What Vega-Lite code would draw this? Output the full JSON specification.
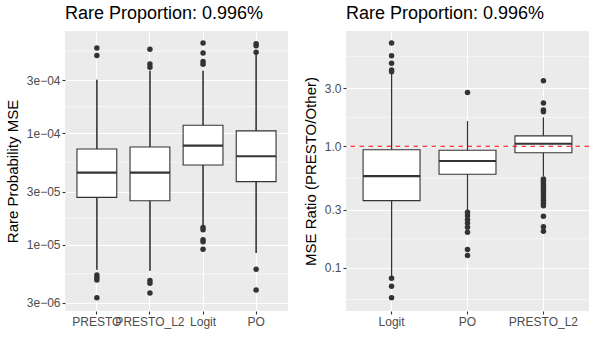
{
  "$schema": "https://vega.github.io/schema/vega-lite/v6.json",
  "padding": {"left": 5, "top": 5, "right": 5, "bottom": 5},
  "spacing": 14,
  "background": "#FFFFFF",
  "config": {
    "view": {"fill": "#EBEBEB", "stroke": null},
    "font": "Liberation Sans",
    "axis": {
      "labelFont": "Liberation Sans", "labelFontSize": 12, "labelColor": "#4D4D4D",
      "ticks": true, "tickColor": "#333333", "tickSize": 3, "tickWidth": 1.1, "domain": false,
      "gridColor": "#FFFFFF", "gridWidth": 1.1, "gridOpacity": 1,
      "titleFont": "Liberation Sans", "titleFontSize": 15, "titleFontWeight": "normal", "titleColor": "#000000",
      "labelPadding": 2, "titlePadding": 6
    },
    "title": {"font": "Liberation Sans", "fontSize": 18, "fontWeight": "normal", "anchor": "start", "frame": "group", "color": "#000000", "offset": 8}
  },
  "datasets": {
    "left_box": [
      {"method": "PRESTO", "lower": 5.97e-6, "q1": 2.66e-5, "median": 4.43e-5, "q3": 7.23e-5, "upper": 3.03e-4},
      {"method": "PRESTO_L2", "lower": 5.85e-6, "q1": 2.48e-5, "median": 4.43e-5, "q3": 7.54e-5, "upper": 3.65e-4},
      {"method": "Logit", "lower": 1.48e-5, "q1": 5.19e-5, "median": 7.74e-5, "q3": 1.18e-4, "upper": 3.65e-4},
      {"method": "PO", "lower": 8.42e-6, "q1": 3.68e-5, "median": 6.22e-5, "q3": 1.05e-4, "upper": 5.15e-4}
    ],
    "left_out": [
      {"method": "PRESTO", "value": 5.84e-4}, {"method": "PRESTO", "value": 4.98e-4},
      {"method": "PRESTO", "value": 5.34e-6}, {"method": "PRESTO", "value": 5.06e-6},
      {"method": "PRESTO", "value": 4.82e-6}, {"method": "PRESTO", "value": 3.34e-6},
      {"method": "PRESTO_L2", "value": 5.68e-4}, {"method": "PRESTO_L2", "value": 4.19e-4},
      {"method": "PRESTO_L2", "value": 3.91e-4}, {"method": "PRESTO_L2", "value": 4.76e-6},
      {"method": "PRESTO_L2", "value": 4.51e-6}, {"method": "PRESTO_L2", "value": 3.69e-6},
      {"method": "Logit", "value": 6.47e-4}, {"method": "Logit", "value": 5.26e-4},
      {"method": "Logit", "value": 4.40e-4}, {"method": "Logit", "value": 4.16e-4},
      {"method": "Logit", "value": 1.43e-5}, {"method": "Logit", "value": 1.36e-5},
      {"method": "Logit", "value": 1.11e-5}, {"method": "Logit", "value": 1.06e-5},
      {"method": "Logit", "value": 9.1e-6},
      {"method": "PO", "value": 6.37e-4}, {"method": "PO", "value": 6.11e-4},
      {"method": "PO", "value": 5.33e-4}, {"method": "PO", "value": 6.01e-6},
      {"method": "PO", "value": 3.92e-6}
    ],
    "left_minor": [{"v": 5.48e-6}, {"v": 1.732e-5}, {"v": 5.48e-5}, {"v": 1.732e-4}, {"v": 5.48e-4}],
    "right_box": [
      {"method": "Logit", "lower": 0.085, "q1": 0.357, "median": 0.569, "q3": 0.938, "upper": 4.01},
      {"method": "PO", "lower": 0.295, "q1": 0.588, "median": 0.757, "q3": 0.927, "upper": 1.61},
      {"method": "PRESTO_L2", "lower": 0.572, "q1": 0.885, "median": 1.05, "q3": 1.22, "upper": 1.73}
    ],
    "right_out": [
      {"method": "Logit", "value": 7.10}, {"method": "Logit", "value": 5.57}, {"method": "Logit", "value": 4.83},
      {"method": "Logit", "value": 4.25}, {"method": "Logit", "value": 4.12}, {"method": "Logit", "value": 0.0818},
      {"method": "Logit", "value": 0.0703}, {"method": "Logit", "value": 0.0567},
      {"method": "PO", "value": 2.78}, {"method": "PO", "value": 0.286}, {"method": "PO", "value": 0.268},
      {"method": "PO", "value": 0.249}, {"method": "PO", "value": 0.233}, {"method": "PO", "value": 0.215},
      {"method": "PO", "value": 0.196}, {"method": "PO", "value": 0.141}, {"method": "PO", "value": 0.126},
      {"method": "PRESTO_L2", "value": 3.47}, {"method": "PRESTO_L2", "value": 2.27}, {"method": "PRESTO_L2", "value": 1.99},
      {"method": "PRESTO_L2", "value": 1.93}, {"method": "PRESTO_L2", "value": 0.538}, {"method": "PRESTO_L2", "value": 0.52},
      {"method": "PRESTO_L2", "value": 0.50}, {"method": "PRESTO_L2", "value": 0.48}, {"method": "PRESTO_L2", "value": 0.46},
      {"method": "PRESTO_L2", "value": 0.44}, {"method": "PRESTO_L2", "value": 0.42}, {"method": "PRESTO_L2", "value": 0.40},
      {"method": "PRESTO_L2", "value": 0.38}, {"method": "PRESTO_L2", "value": 0.36}, {"method": "PRESTO_L2", "value": 0.34},
      {"method": "PRESTO_L2", "value": 0.324}, {"method": "PRESTO_L2", "value": 0.265}, {"method": "PRESTO_L2", "value": 0.218},
      {"method": "PRESTO_L2", "value": 0.20}
    ],
    "right_minor": [{"v": 0.0548}, {"v": 0.173}, {"v": 0.548}, {"v": 1.732}, {"v": 5.48}],
    "ref": [{"r": 1}]
  },
  "hconcat": [
    {
      "width": 223, "height": 280,
      "title": "Rare Proportion: 0.996%",
      "layer": [
        {
          "data": {"name": "left_box"},
          "mark": {"type": "rule", "color": "#333333", "strokeWidth": 1.1},
          "encoding": {
            "x": {"field": "method", "type": "nominal",
              "scale": {"domain": ["PRESTO", "PRESTO_L2", "Logit", "PO"], "paddingInner": 0, "paddingOuter": 0.1},
              "axis": {"title": null, "labelAngle": 0, "labelOverlap": false, "grid": true, "ticks": true, "bandPosition": 0.5}},
            "y": {"field": "lower", "type": "quantitative", "title": "Rare Probability MSE",
              "scale": {"type": "log", "domain": [2.54e-6, 8.28e-4], "nice": false, "zero": false},
              "axis": {"values": [3e-6, 1e-5, 3e-5, 1e-4, 3e-4],
                "labelExpr": "replace(format(datum.value, '.0e'), 'e-', 'e\u22120')"}},
            "y2": {"field": "upper"}
          }
        },
        {
          "data": {"name": "left_minor"},
          "mark": {"type": "rule", "color": "#FFFFFF", "strokeWidth": 0.55},
          "encoding": {"y": {"field": "v", "type": "quantitative", "title": "Rare Probability MSE"}}
        },
        {
          "data": {"name": "left_box"},
          "mark": {"type": "rule", "color": "#333333", "strokeWidth": 1.1},
          "encoding": {
            "x": {"field": "method", "type": "nominal"},
            "y": {"field": "lower", "type": "quantitative", "title": "Rare Probability MSE"},
            "y2": {"field": "upper"}
          }
        },
        {
          "data": {"name": "left_box"},
          "mark": {"type": "bar", "fill": "#FFFFFF", "stroke": "#333333", "strokeWidth": 1.1, "width": {"band": 0.75}},
          "encoding": {
            "x": {"field": "method", "type": "nominal"},
            "y": {"field": "q1", "type": "quantitative", "title": "Rare Probability MSE"},
            "y2": {"field": "q3"}
          }
        },
        {
          "data": {"name": "left_box"},
          "mark": {"type": "tick", "color": "#333333", "thickness": 2.2, "size": 40, "opacity": 1},
          "encoding": {
            "x": {"field": "method", "type": "nominal"},
            "y": {"field": "median", "type": "quantitative", "title": "Rare Probability MSE"}
          }
        },
        {
          "data": {"name": "left_out"},
          "mark": {"type": "circle", "color": "#333333", "opacity": 1, "size": 30},
          "encoding": {
            "x": {"field": "method", "type": "nominal"},
            "y": {"field": "value", "type": "quantitative", "title": "Rare Probability MSE"}
          }
        }
      ]
    },
    {
      "width": 243, "height": 280,
      "title": "Rare Proportion: 0.996%",
      "layer": [
        {
          "data": {"name": "right_box"},
          "mark": {"type": "rule", "color": "#333333", "strokeWidth": 1.1},
          "encoding": {
            "x": {"field": "method", "type": "nominal",
              "scale": {"domain": ["Logit", "PO", "PRESTO_L2"], "paddingInner": 0, "paddingOuter": 0.1},
              "axis": {"title": null, "labelAngle": 0, "labelOverlap": false, "grid": true, "ticks": true, "bandPosition": 0.5}},
            "y": {"field": "lower", "type": "quantitative", "title": "MSE Ratio (PRESTO/Other)",
              "scale": {"type": "log", "domain": [0.044, 8.91], "nice": false, "zero": false},
              "axis": {"values": [0.1, 0.3, 1, 3], "format": ".1f"}},
            "y2": {"field": "upper"}
          }
        },
        {
          "data": {"name": "right_minor"},
          "mark": {"type": "rule", "color": "#FFFFFF", "strokeWidth": 0.55},
          "encoding": {"y": {"field": "v", "type": "quantitative", "title": "MSE Ratio (PRESTO/Other)"}}
        },
        {
          "data": {"name": "right_box"},
          "mark": {"type": "rule", "color": "#333333", "strokeWidth": 1.1},
          "encoding": {
            "x": {"field": "method", "type": "nominal"},
            "y": {"field": "lower", "type": "quantitative", "title": "MSE Ratio (PRESTO/Other)"},
            "y2": {"field": "upper"}
          }
        },
        {
          "data": {"name": "right_box"},
          "mark": {"type": "bar", "fill": "#FFFFFF", "stroke": "#333333", "strokeWidth": 1.1, "width": {"band": 0.75}},
          "encoding": {
            "x": {"field": "method", "type": "nominal"},
            "y": {"field": "q1", "type": "quantitative", "title": "MSE Ratio (PRESTO/Other)"},
            "y2": {"field": "q3"}
          }
        },
        {
          "data": {"name": "right_box"},
          "mark": {"type": "tick", "color": "#333333", "thickness": 2.2, "size": 57, "opacity": 1},
          "encoding": {
            "x": {"field": "method", "type": "nominal"},
            "y": {"field": "median", "type": "quantitative", "title": "MSE Ratio (PRESTO/Other)"}
          }
        },
        {
          "data": {"name": "right_out"},
          "mark": {"type": "circle", "color": "#333333", "opacity": 1, "size": 30},
          "encoding": {
            "x": {"field": "method", "type": "nominal"},
            "y": {"field": "value", "type": "quantitative", "title": "MSE Ratio (PRESTO/Other)"}
          }
        },
        {
          "data": {"name": "ref"},
          "mark": {"type": "rule", "color": "#FF0000", "strokeWidth": 1.1, "strokeDash": [4.5, 4.5]},
          "encoding": {"y": {"field": "r", "type": "quantitative", "title": "MSE Ratio (PRESTO/Other)"}}
        }
      ]
    }
  ]
}
